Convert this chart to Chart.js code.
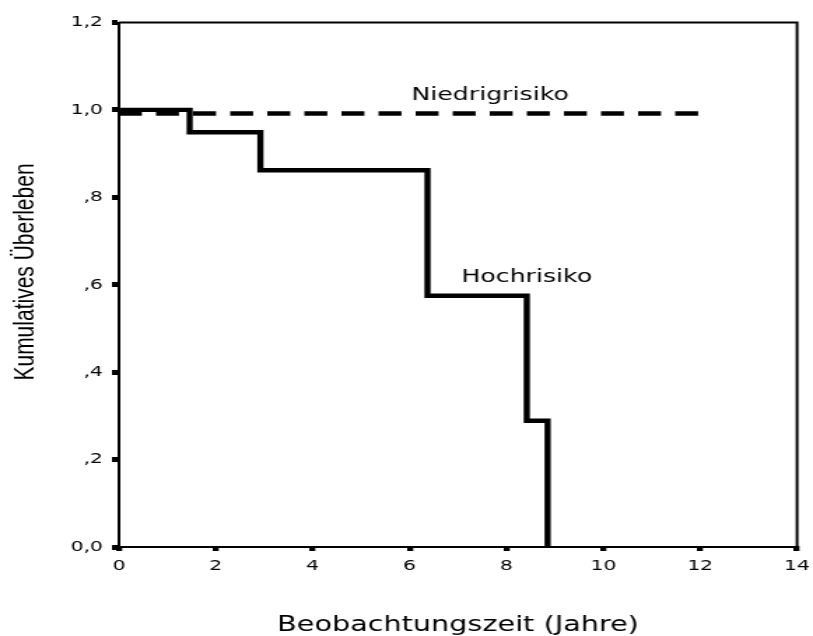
<!DOCTYPE html>
<html>
<head>
<meta charset="utf-8">
<title>Kumulatives Überleben</title>
<script src="https://cdn.jsdelivr.net/npm/chart.js@4/dist/chart.umd.min.js"></script>
<style>
  html, body { margin: 0; padding: 0; background: #fff; }
</style>
</head>
<body>
<!-- the drawing surface is rendered narrow and widened to the page width -->
<canvas id="km" width="581" height="636" style="display:block;width:813px;height:636px;"></canvas>
<script>
// Kaplan-Meier estimates (time in years, cumulative survival)
const hochTime = [0, 1.46, 2.92, 6.37, 8.42, 8.85];
const hochSurv = [1.0, 0.949, 0.862, 0.575, 0.289, 0.0];
const niedrigTime = [0, 12];
const niedrigSurv = [0.992, 0.992];

const seriesNames = ['Hochrisiko', 'Niedrigrisiko'];
const xTickValues = [0, 2, 4, 6, 8, 10, 12, 14];
const yTickLabels = ['0,0', ',2', ',4', ',6', ',8', '1,0', '1,2'];
const xTitle = 'Beobachtungszeit (Jahre)';
const yTitle = 'Kumulatives Überleben';

const toPoints = (t, s) => t.map((v, i) => ({ x: v, y: s[i] }));

// frame on top/right, curve names and axis titles
const frameAndText = {
  id: 'frameAndText',
  afterDraw(chart, args, opts) {
    const { ctx, chartArea: a, scales: { x, y } } = chart;
    ctx.save();
    ctx.strokeStyle = '#000';
    ctx.lineWidth = 2;
    ctx.beginPath();
    ctx.moveTo(a.left, a.top);
    ctx.lineTo(a.right, a.top);
    ctx.lineTo(a.right, a.bottom);
    ctx.stroke();

    ctx.fillStyle = '#000';
    ctx.font = '18px "DejaVu Sans"';
    ctx.textAlign = 'left';
    ctx.textBaseline = 'alphabetic';
    opts.names.forEach(n => {
      ctx.fillText(n.text, x.getPixelForValue(n.at[0]), y.getPixelForValue(n.at[1]));
    });

    ctx.font = '20.5px "DejaVu Sans"';
    ctx.textAlign = 'center';
    ctx.fillText(xTitle, (a.left + a.right) / 2, 631);

    ctx.translate(18, 272);
    ctx.rotate(-Math.PI / 2);
    ctx.font = '21px "Liberation Sans"';
    ctx.textBaseline = 'middle';
    ctx.fillText(yTitle, 0, 0);
    ctx.restore();
  }
};

const tickFont = { family: 'DejaVu Sans', size: 14.5 };

new Chart(document.getElementById('km'), {
  type: 'line',
  data: {
    datasets: [
      {
        label: seriesNames[0],
        data: toPoints(hochTime, hochSurv),
        stepped: 'before',
        borderColor: '#000',
        borderWidth: 4.4,
        pointRadius: 0,
        fill: false
      },
      {
        label: seriesNames[1],
        data: toPoints(niedrigTime, niedrigSurv),
        borderColor: '#000',
        borderWidth: 4.5,
        borderDash: [16.4, 10.1],
        pointRadius: 0,
        fill: false
      }
    ]
  },
  options: {
    responsive: false,
    devicePixelRatio: 1,
    animation: false,
    layout: { padding: { top: 22.5, right: 11.4, left: 0, bottom: 0 } },
    plugins: {
      legend: { display: false },
      tooltip: { enabled: false },
      frameAndText: {
        names: [
          { text: seriesNames[1], at: [6.04, 1.023] },
          { text: seriesNames[0], at: [7.07, 0.607] }
        ]
      }
    },
    scales: {
      x: {
        type: 'linear',
        min: xTickValues[0],
        max: xTickValues[xTickValues.length - 1],
        afterFit(scale) {
          scale.height = 89;
          scale.paddingLeft = 0;
          scale.paddingRight = 0;
        },
        afterBuildTicks(scale) { scale.ticks = xTickValues.map(v => ({ value: v })); },
        ticks: { color: '#000', font: tickFont, padding: 7, maxRotation: 0, callback: v => String(v) },
        grid: { drawOnChartArea: false, drawTicks: true, tickLength: 4, tickWidth: 4.3, lineWidth: 4.3, tickColor: '#000' },
        border: { display: true, color: '#000', width: 2 }
      },
      y: {
        type: 'linear',
        min: 0,
        max: 1.2,
        afterFit(scale) { scale.width = 85; },
        ticks: { stepSize: 0.2, color: '#000', font: tickFont, padding: 6.4, callback: (v, i) => yTickLabels[i] },
        grid: { drawOnChartArea: false, drawTicks: true, tickLength: 5, tickWidth: 5, lineWidth: 5, tickColor: '#000' },
        border: { display: true, color: '#000', width: 2 }
      }
    }
  },
  plugins: [frameAndText]
});
</script>
</body>
</html>
